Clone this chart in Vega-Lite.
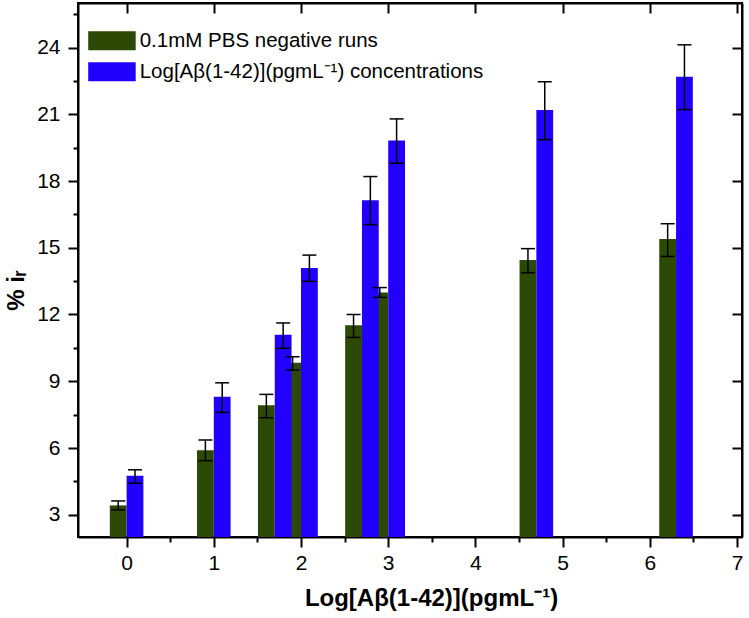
{
  "$schema": "https://vega.github.io/schema/vega-lite/v6.json",
  "width": 664,
  "height": 534,
  "autosize": "none",
  "padding": {"left": 78, "top": 3, "right": 7, "bottom": 81},
  "background": "white",
  "config": {
    "view": {"stroke": "black", "strokeWidth": 2},
    "font": "Liberation Sans",
    "axis": {
      "grid": false,
      "domainColor": "black",
      "domainWidth": 2,
      "tickColor": "black",
      "tickWidth": 2,
      "labelFont": "Liberation Sans",
      "labelFontSize": 21,
      "labelColor": "black",
      "titleFont": "Liberation Sans",
      "titleFontSize": 24,
      "titleFontWeight": "bold",
      "titleColor": "black"
    },
    "legend": {
      "orient": "none",
      "legendX": 23.7,
      "legendY": 27.5,
      "padding": 0,
      "symbolType": "M-2.5,-1H2.5V1H-2.5Z",
      "symbolSize": 361,
      "symbolStrokeWidth": 0,
      "labelFont": "Liberation Sans",
      "labelFontSize": 20.5,
      "labelColor": "black",
      "labelLimit": 0,
      "labelOffset": 17.5,
      "rowPadding": 10
    }
  },
  "data": {
    "values": [
      {"series": "0.1mM PBS negative runs", "x": 0, "value": 3.42, "lo": 3.22, "hi": 3.62},
      {"series": "0.1mM PBS negative runs", "x": 1, "value": 5.9, "lo": 5.43, "hi": 6.36},
      {"series": "0.1mM PBS negative runs", "x": 1.699, "value": 7.92, "lo": 7.36, "hi": 8.41},
      {"series": "0.1mM PBS negative runs", "x": 2, "value": 9.83, "lo": 9.5, "hi": 10.1},
      {"series": "0.1mM PBS negative runs", "x": 2.699, "value": 11.52, "lo": 10.97, "hi": 12.0},
      {"series": "0.1mM PBS negative runs", "x": 3, "value": 12.99, "lo": 12.77, "hi": 13.21},
      {"series": "0.1mM PBS negative runs", "x": 4.699, "value": 14.45, "lo": 13.88, "hi": 14.96},
      {"series": "0.1mM PBS negative runs", "x": 6.301, "value": 15.39, "lo": 14.61, "hi": 16.08},
      {"series": "Log[Aβ(1-42)](pgmL⁻¹) concentrations", "x": 0, "value": 4.75, "lo": 4.42, "hi": 5.02},
      {"series": "Log[Aβ(1-42)](pgmL⁻¹) concentrations", "x": 1, "value": 8.3, "lo": 7.6, "hi": 8.93},
      {"series": "Log[Aβ(1-42)](pgmL⁻¹) concentrations", "x": 1.699, "value": 11.09, "lo": 10.48, "hi": 11.62},
      {"series": "Log[Aβ(1-42)](pgmL⁻¹) concentrations", "x": 2, "value": 14.09, "lo": 13.49, "hi": 14.67},
      {"series": "Log[Aβ(1-42)](pgmL⁻¹) concentrations", "x": 2.699, "value": 17.13, "lo": 16.04, "hi": 18.2},
      {"series": "Log[Aβ(1-42)](pgmL⁻¹) concentrations", "x": 3, "value": 19.82, "lo": 18.8, "hi": 20.79},
      {"series": "Log[Aβ(1-42)](pgmL⁻¹) concentrations", "x": 4.699, "value": 21.19, "lo": 19.86, "hi": 22.46},
      {"series": "Log[Aβ(1-42)](pgmL⁻¹) concentrations", "x": 6.301, "value": 22.69, "lo": 21.21, "hi": 24.12}
    ]
  },
  "resolve": {"axis": {"x": "independent", "y": "independent"}},
  "layer": [
    {
      "transform": [{"filter": "datum.series === '0.1mM PBS negative runs'"}],
      "mark": {"type": "bar", "size": 16.8, "xOffset": -8.4},
      "encoding": {
        "x": {
          "field": "x", "type": "quantitative",
          "scale": {"domain": [-0.5, 7], "nice": false, "zero": false},
          "axis": {
            "orient": "bottom", "values": [0, 1, 2, 3, 4, 5, 6, 7], "tickSize": 10,
            "labelPadding": 5, "labelFlush": false,
            "title": "Log[Aβ(1-42)](pgmL⁻¹)", "titleX": 353, "titleY": 68,
            "titleBaseline": "alphabetic", "titleAnchor": null
          }
        },
        "y": {
          "field": "value", "type": "quantitative",
          "scale": {"domain": [2, 26], "nice": false, "zero": false},
          "axis": {
            "orient": "left", "values": [3, 6, 9, 12, 15, 18, 21, 24], "tickSize": 10,
            "labelPadding": 8, "labelFlush": false,
            "title": "% iᵣ", "titleFontSize": 24, "titleAngle": 270, "titleX": -55, "titleY": 287,
            "titleBaseline": "alphabetic", "titleAlign": "center", "titleAnchor": null
          }
        },
        "y2": {"datum": 2},
        "color": {
          "field": "series", "type": "nominal",
          "scale": {
            "domain": ["0.1mM PBS negative runs", "Log[Aβ(1-42)](pgmL⁻¹) concentrations"],
            "range": ["#2c4905", "#2200ff"]
          },
          "legend": {"title": null}
        }
      }
    },
    {
      "transform": [{"filter": "datum.series !== '0.1mM PBS negative runs'"}],
      "mark": {"type": "bar", "size": 16.8, "xOffset": 8.4},
      "encoding": {
        "x": {
          "field": "x", "type": "quantitative",
          "axis": {"orient": "top", "values": [0, 1, 2, 3, 4, 5, 6, 7], "tickSize": -10, "labels": false, "title": null}
        },
        "y": {
          "field": "value", "type": "quantitative",
          "axis": {"orient": "right", "values": [3, 6, 9, 12, 15, 18, 21, 24], "tickSize": -10, "labels": false, "title": null}
        },
        "y2": {"datum": 2},
        "color": {"field": "series", "type": "nominal"}
      }
    },
    {
      "transform": [{"filter": "datum.series === '0.1mM PBS negative runs'"}],
      "mark": {"type": "rule", "xOffset": -8.4, "color": "black", "strokeWidth": 1.5},
      "encoding": {
        "x": {
          "field": "x", "type": "quantitative",
          "axis": {"orient": "bottom", "values": [0.5, 1.5, 2.5, 3.5, 4.5, 5.5, 6.5], "tickSize": 5, "labels": false, "domain": false, "title": null}
        },
        "y": {
          "field": "lo", "type": "quantitative",
          "axis": {"orient": "left", "values": [4.5, 7.5, 10.5, 13.5, 16.5, 19.5, 22.5, 25.5], "tickSize": 5, "labels": false, "domain": false, "title": null}
        },
        "y2": {"field": "hi"}
      }
    },
    {
      "transform": [{"filter": "datum.series !== '0.1mM PBS negative runs'"}],
      "mark": {"type": "rule", "xOffset": 8.4, "color": "black", "strokeWidth": 1.5},
      "encoding": {
        "x": {"field": "x", "type": "quantitative", "axis": null},
        "y": {"field": "lo", "type": "quantitative", "axis": null},
        "y2": {"field": "hi"}
      }
    },
    {
      "transform": [
        {"filter": "datum.series === '0.1mM PBS negative runs'"},
        {"fold": ["lo", "hi"], "as": ["k", "v"]}
      ],
      "mark": {"type": "point", "shape": "M-1,0H1", "filled": false, "stroke": "black", "strokeWidth": 1.5, "opacity": 1, "size": 196, "xOffset": -8.4},
      "encoding": {
        "x": {"field": "x", "type": "quantitative", "axis": null},
        "y": {"field": "v", "type": "quantitative", "axis": null}
      }
    },
    {
      "transform": [
        {"filter": "datum.series !== '0.1mM PBS negative runs'"},
        {"fold": ["lo", "hi"], "as": ["k", "v"]}
      ],
      "mark": {"type": "point", "shape": "M-1,0H1", "filled": false, "stroke": "black", "strokeWidth": 1.5, "opacity": 1, "size": 196, "xOffset": 8.4},
      "encoding": {
        "x": {"field": "x", "type": "quantitative", "axis": null},
        "y": {"field": "v", "type": "quantitative", "axis": null}
      }
    }
  ]
}
